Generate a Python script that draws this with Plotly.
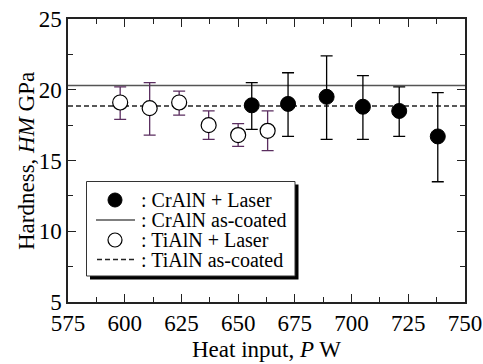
import plotly.graph_objects as go

# Data
cr_x = [656, 672, 689, 705, 721, 738]
cr_y = [18.9, 19.0, 19.5, 18.8, 18.5, 16.7]
cr_hi = [20.5, 21.2, 22.4, 21.0, 20.2, 19.8]
cr_lo = [17.2, 16.7, 16.5, 16.5, 16.7, 13.5]

ti_x = [598, 611, 624, 637, 650, 663]
ti_y = [19.1, 18.7, 19.1, 17.5, 16.8, 17.1]
ti_hi = [20.2, 20.5, 19.9, 18.5, 17.6, 18.5]
ti_lo = [17.9, 16.8, 18.2, 16.5, 16.0, 15.7]

cr_coated = 20.3
ti_coated = 18.85
x_span = [575, 750]

legend_labels = [": CrAlN + Laser", ": CrAlN as-coated", ": TiAlN + Laser", ": TiAlN as-coated"]
x_title = "Heat input, <i>P</i> W"
y_title = "Hardness, <i>HM</i> GPa"

FONT = "Liberation Serif, Times New Roman, serif"
W, H = 483, 364
ML, MR, MT, MB = 68, 18, 19, 62
PW, PH = W - ML - MR, H - MT - MB


def px(xp):
    return (xp - ML) / PW


def py(yp):
    return (H - MB - yp) / PH


fig = go.Figure()

fig.add_trace(go.Scatter(x=x_span, y=[cr_coated] * 2, mode="lines",
                         line=dict(color="#555555", width=1.4), showlegend=False))
fig.add_trace(go.Scatter(x=x_span, y=[ti_coated] * 2, mode="lines",
                         line=dict(color="#222222", width=1.3, dash="5px,3px"), showlegend=False))

fig.add_trace(go.Scatter(
    x=ti_x, y=ti_y, mode="markers",
    marker=dict(symbol="circle", size=15, color="white", line=dict(color="black", width=1.2)),
    error_y=dict(type="data", symmetric=False,
                 array=[h - v for h, v in zip(ti_hi, ti_y)],
                 arrayminus=[v - l for l, v in zip(ti_lo, ti_y)],
                 color="#5a2d5f", thickness=1.3, width=6),
    showlegend=False))

fig.add_trace(go.Scatter(
    x=cr_x, y=cr_y, mode="markers",
    marker=dict(symbol="circle", size=15, color="black", line=dict(color="black", width=1)),
    error_y=dict(type="data", symmetric=False,
                 array=[h - v for h, v in zip(cr_hi, cr_y)],
                 arrayminus=[v - l for l, v in zip(cr_lo, cr_y)],
                 color="black", thickness=1.3, width=6),
    showlegend=False))

# Manual legend (box with shadow)
shapes = []
shapes.append(dict(type="rect", xref="paper", yref="paper",
                   x0=px(90), x1=px(298.5), y0=py(279.5), y1=py(184.5),
                   fillcolor="black", line=dict(width=0)))
shapes.append(dict(type="rect", xref="paper", yref="paper",
                   x0=px(86.5), x1=px(295), y0=py(276), y1=py(181.5),
                   fillcolor="white", line=dict(color="#333333", width=1)))
rows = [200, 220, 240, 259.5]
r = 7
shapes.append(dict(type="circle", xref="paper", yref="paper",
                   x0=px(115 - r), x1=px(115 + r), y0=py(rows[0] + r), y1=py(rows[0] - r),
                   fillcolor="black", line=dict(color="black", width=1)))
shapes.append(dict(type="line", xref="paper", yref="paper",
                   x0=px(96), x1=px(135), y0=py(rows[1]), y1=py(rows[1]),
                   line=dict(color="#555555", width=1.4)))
shapes.append(dict(type="circle", xref="paper", yref="paper",
                   x0=px(115 - r), x1=px(115 + r), y0=py(rows[2] + r), y1=py(rows[2] - r),
                   fillcolor="white", line=dict(color="black", width=1.2)))
shapes.append(dict(type="line", xref="paper", yref="paper",
                   x0=px(97), x1=px(135), y0=py(rows[3]), y1=py(rows[3]),
                   line=dict(color="#222222", width=1.3, dash="5px,3px")))

annotations = []
for lab, ry in zip(legend_labels, rows):
    annotations.append(dict(xref="paper", yref="paper", x=px(139), y=py(ry),
                            xanchor="left", yanchor="middle", text=lab, showarrow=False,
                            font=dict(family=FONT, size=20, color="black")))

# axis titles as annotations
annotations.append(dict(xref="paper", yref="paper", x=px(26), y=py(161),
                        xanchor="center", yanchor="middle", text=y_title, textangle=-90,
                        showarrow=False, font=dict(family=FONT, size=23, color="black")))
annotations.append(dict(xref="paper", yref="paper", x=px(266), y=py(349),
                        xanchor="center", yanchor="middle", text=x_title,
                        showarrow=False, font=dict(family=FONT, size=23, color="black")))

axis_common = dict(showline=True, linecolor="#222222", linewidth=1.5, mirror="ticks",
                   ticks="inside", tickcolor="#222222", tickwidth=1.3, ticklen=8,
                   showgrid=False, zeroline=False, automargin=False,
                   tickfont=dict(family=FONT, size=23, color="black"))

fig.update_layout(
    width=W, height=H, margin=dict(l=ML, r=MR, t=MT, b=MB),
    paper_bgcolor="white", plot_bgcolor="white",
    font=dict(family=FONT, color="black"),
    shapes=shapes, annotations=annotations,
    xaxis=dict(range=[575, 750], tickmode="linear", tick0=575, dtick=25,
               minor=dict(ticks="inside", ticklen=5, tickcolor="#222222", tickwidth=1.2, dtick=12.5, tick0=575),
               **axis_common),
    yaxis=dict(range=[5, 25], tickmode="linear", tick0=5, dtick=5,
               minor=dict(ticks="inside", ticklen=5, tickcolor="#222222", tickwidth=1.2, dtick=2.5, tick0=5),
               **axis_common),
)

fig.write_html("out.html")
